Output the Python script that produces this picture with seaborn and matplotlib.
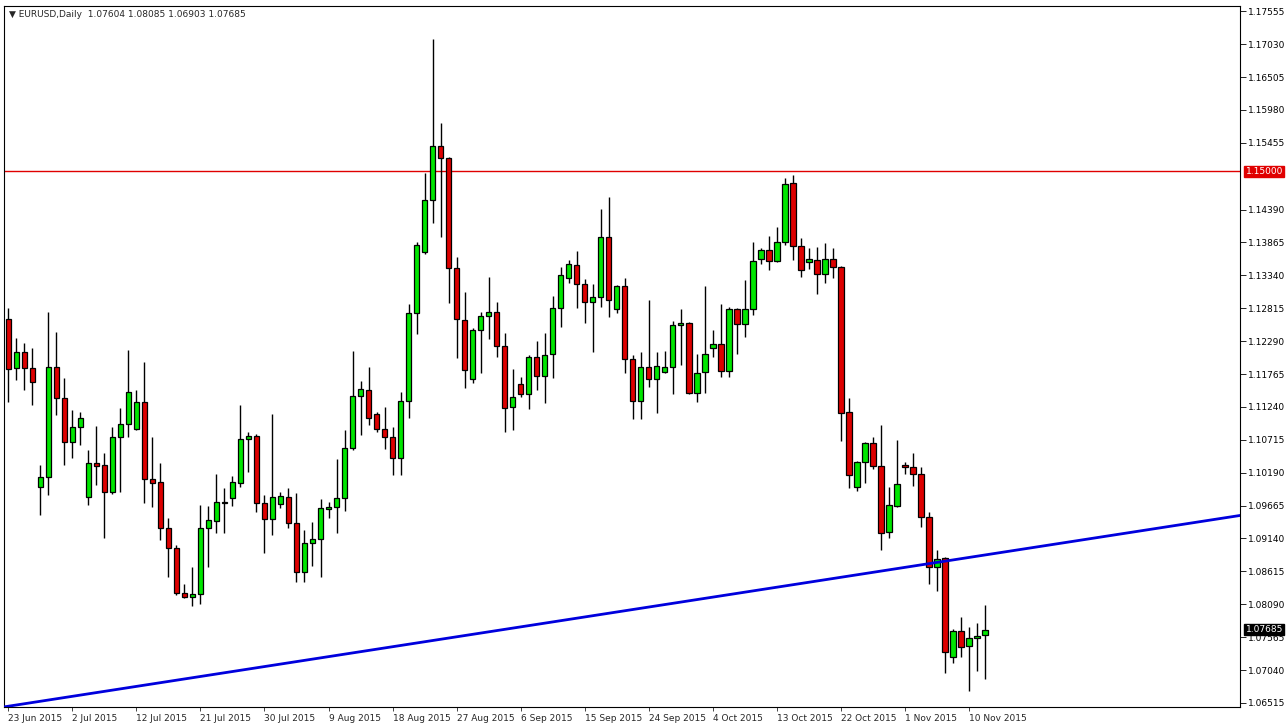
import matplotlib
matplotlib.use("Agg")
import matplotlib.pyplot as plt
import seaborn as sns
import numpy as np
import pandas as pd

opens = [1.1264,1.1186,1.1212,1.1186,1.0996,1.1012,1.1188,1.1138,1.1068,1.1092,
         1.0980,1.1035,1.1031,1.0988,1.1076,1.1097,1.1089,1.1132,1.1009,1.1004,
         1.0931,1.0899,1.0827,1.0821,1.0826,1.0931,1.0942,1.0970,1.0979,1.1003,
         1.1073,1.1078,1.0971,1.0945,1.0969,1.0980,1.0939,1.0861,1.0907,1.0913,
         1.0961,1.0964,1.0979,1.1058,1.1141,1.1151,1.1113,1.1089,1.1076,1.1043,
         1.1133,1.1274,1.1371,1.1454,1.1540,1.1521,1.1346,1.1263,1.1169,1.1247,
         1.1269,1.1275,1.1221,1.1124,1.1161,1.1145,1.1204,1.1173,1.1208,1.1282,
         1.1330,1.1350,1.1320,1.1291,1.1299,1.1395,1.1280,1.1317,1.1200,1.1133,
         1.1188,1.1169,1.1180,1.1188,1.1255,1.1258,1.1146,1.1180,1.1218,1.1224,
         1.1181,1.1280,1.1256,1.1280,1.1360,1.1374,1.1357,1.1387,1.1481,1.1381,
         1.1355,1.1358,1.1336,1.1360,1.1347,1.1116,1.0996,1.1036,1.1066,1.1030,
         1.0925,1.0966,1.1031,1.1028,1.1017,1.0948,1.0869,1.0883,1.0725,1.0767,
         1.0743,1.0755,1.07604]
highs = [1.1282,1.1234,1.1226,1.1218,1.1031,1.1275,1.1244,1.1170,1.1119,1.1116,
         1.1055,1.1094,1.1051,1.1092,1.1122,1.1215,1.1151,1.1196,1.1076,1.1035,
         1.0947,1.0904,1.0842,1.0869,1.0968,1.0966,1.1017,1.0995,1.1014,1.1127,
         1.1084,1.1080,1.0984,1.1113,1.0988,1.0995,1.0987,1.0928,1.0940,1.0977,
         1.0972,1.1041,1.1087,1.1213,1.1165,1.1188,1.1116,1.1124,1.1092,1.1148,
         1.1288,1.1387,1.1497,1.1711,1.1577,1.1523,1.1363,1.1307,1.1250,1.1275,
         1.1331,1.1291,1.1242,1.1184,1.1172,1.1207,1.1229,1.1242,1.1301,1.1347,
         1.1358,1.1373,1.1328,1.1320,1.1440,1.1459,1.1318,1.1330,1.1207,1.1212,
         1.1295,1.1212,1.1213,1.1261,1.1280,1.1260,1.1208,1.1317,1.1247,1.1288,
         1.1283,1.1282,1.1326,1.1387,1.1377,1.1397,1.1411,1.1489,1.1494,1.1393,
         1.1377,1.1379,1.1385,1.1377,1.1349,1.1138,1.1038,1.1068,1.1076,1.1095,
         1.0996,1.1071,1.1036,1.1051,1.1028,1.0956,1.0896,1.0885,1.0770,1.0789,
         1.0773,1.0779,1.08085]
lows = [1.1132,1.1167,1.1151,1.1127,1.0952,1.0984,1.1111,1.1031,1.1043,1.1063,
        1.0968,1.0999,1.0915,1.0985,1.0988,1.1076,1.1087,1.0971,1.0964,1.0912,
        1.0853,1.0824,1.0819,1.0806,1.0810,1.0869,1.0923,1.0923,1.0966,1.0996,
        1.1020,1.0956,1.0891,1.0920,1.0963,1.0931,1.0845,1.0845,1.0870,1.0853,
        1.0947,1.0923,1.0958,1.1055,1.1079,1.1095,1.1084,1.1057,1.1015,1.1015,
        1.1106,1.1240,1.1368,1.1417,1.1395,1.1290,1.1202,1.1154,1.1162,1.1178,
        1.1232,1.1204,1.1084,1.1087,1.1140,1.1121,1.1151,1.1130,1.1170,1.1251,
        1.1322,1.1282,1.1258,1.1212,1.1283,1.1267,1.1274,1.1178,1.1105,1.1105,
        1.1156,1.1114,1.1178,1.1145,1.1191,1.1145,1.1132,1.1146,1.1204,1.1172,
        1.1172,1.1208,1.1236,1.1271,1.1352,1.1342,1.1355,1.1382,1.1358,1.1331,
        1.1344,1.1304,1.1322,1.1330,1.1070,1.0995,1.0990,1.1003,1.1025,1.0896,
        1.0915,1.0964,1.1017,1.0998,1.0932,1.0842,1.0830,1.0700,1.0716,1.0725,
        1.0671,1.0703,1.06903]
closes = [1.1184,1.1212,1.1186,1.1164,1.1012,1.1188,1.1138,1.1068,1.1092,1.1106,
          1.1035,1.1030,1.0988,1.1076,1.1097,1.1148,1.1132,1.1009,1.1003,1.0931,
          1.0899,1.0827,1.0821,1.0826,1.0931,1.0944,1.0972,1.0972,1.1004,1.1073,
          1.1078,1.0971,1.0945,1.0980,1.0982,1.0939,1.0861,1.0907,1.0913,1.0963,
          1.0964,1.0979,1.1058,1.1141,1.1153,1.1106,1.1089,1.1076,1.1043,1.1133,
          1.1274,1.1382,1.1454,1.1540,1.1521,1.1346,1.1264,1.1183,1.1247,1.1269,
          1.1275,1.1221,1.1122,1.1140,1.1145,1.1204,1.1173,1.1207,1.1282,1.1334,
          1.1352,1.1320,1.1291,1.1299,1.1395,1.1295,1.1317,1.1200,1.1133,1.1188,
          1.1169,1.1189,1.1188,1.1255,1.1258,1.1146,1.1178,1.1208,1.1224,1.1181,
          1.1280,1.1256,1.1280,1.1357,1.1374,1.1357,1.1387,1.1480,1.1381,1.1342,
          1.1360,1.1336,1.1360,1.1347,1.1114,1.1015,1.1036,1.1066,1.1030,1.0923,
          1.0968,1.1001,1.1028,1.1017,1.0948,1.0869,1.0881,1.0733,1.0767,1.0741,
          1.0755,1.0759,1.07685]

date_labels = ["23 Jun 2015","2 Jul 2015","12 Jul 2015","21 Jul 2015","30 Jul 2015",
               "9 Aug 2015","18 Aug 2015","27 Aug 2015","6 Sep 2015","15 Sep 2015",
               "24 Sep 2015","4 Oct 2015","13 Oct 2015","22 Oct 2015","1 Nov 2015","10 Nov 2015"]
date_label_bars = [0,8,16,24,32,40,48,56,64,72,80,88,96,104,112,120]
price_ticks = [1.17555,1.17030,1.16505,1.15980,1.15455,1.14390,1.13865,1.13340,1.12815,
               1.12290,1.11765,1.11240,1.10715,1.10190,1.09665,1.09140,1.08615,1.08090,
               1.07565,1.07040,1.06515]
resistance = 1.15000
trend_bars = [-0.625, 160.1]
trend_prices = [1.0645, 1.0963]
title = "EURUSD,Daily  1.07604 1.08085 1.06903 1.07685"

df = pd.DataFrame({"open": opens, "high": highs, "low": lows, "close": closes})
df["bar"] = np.arange(len(df))
df["up"] = df["close"] >= df["open"]

sns.set_theme(style="white")
plt.rcParams['font.family'] = ['DejaVu Sans']

fig = plt.figure(figsize=(12.86, 7.27), dpi=100)
ax = fig.add_axes([4/1286, 20/727, 1236/1286, 701/727])

ax.vlines(df["bar"], df["low"], df["high"], color="black", lw=1, zorder=2)
body_lo = np.minimum(df["open"], df["close"])
body_h = np.maximum(np.abs(df["close"] - df["open"]), 0.00012)
colors = np.where(df["up"], "#00E600", "#DD0000")
ax.bar(df["bar"], body_h, bottom=body_lo, width=0.72, color=colors,
       edgecolor="black", linewidth=0.9, zorder=3)

ax.axhline(resistance, color="#E00000", lw=1, zorder=1)
sns.lineplot(x=trend_bars, y=trend_prices, ax=ax, color="#0000DD", lw=2, zorder=4)

ax.set_xlim(-0.55, 153.9)
ax.set_ylim(1.0645, 1.1764)

ax.yaxis.tick_right()
ax.set_yticks(price_ticks)
ax.set_yticklabels([f"{p:.5f}" for p in price_ticks], fontsize=6.5)
ax.tick_params(axis="y", length=4, width=0.6, pad=2, colors="black", direction="out", right=True)
ax.set_xticks(date_label_bars)
ax.set_xticklabels(date_labels, fontsize=6.5, ha="left")
ax.tick_params(axis="x", length=3, width=0.6, pad=2, direction="out", bottom=True)
for s in ax.spines.values():
    s.set_color("black"); s.set_linewidth(0.8)

ax.text(0.004, 0.994, "\u25BC " + title, transform=ax.transAxes, fontsize=6.5, va="top", ha="left")

ax.annotate(f"{resistance:.5f}", xy=(1.0, resistance), xycoords=("axes fraction", "data"),
            xytext=(4, 0), textcoords="offset points", fontsize=6.5, color="white", va="center",
            bbox=dict(boxstyle="square,pad=0.15", fc="#E00000", ec="#E00000"))
ax.annotate(f"{closes[-1]:.5f}", xy=(1.0, closes[-1]), xycoords=("axes fraction", "data"),
            xytext=(4, 0), textcoords="offset points", fontsize=6.5, color="white", va="center",
            bbox=dict(boxstyle="square,pad=0.15", fc="black", ec="black"))
ax.set_xlabel(""); ax.set_ylabel("")
fig.savefig("out.png", dpi=100)
